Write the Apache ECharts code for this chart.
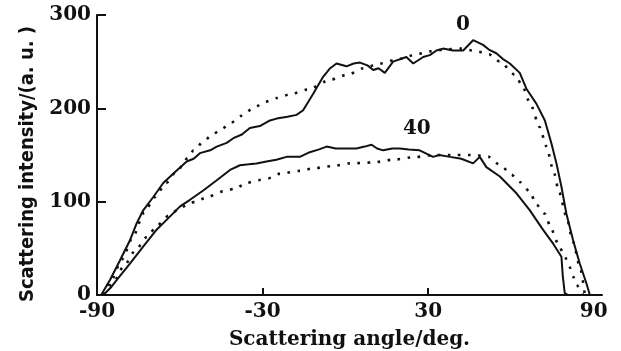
<!DOCTYPE html>
<html>
<head>
<meta charset="utf-8">
<script src="https://cdn.jsdelivr.net/npm/echarts@6/dist/echarts.min.js"></script>
<style>
html,body{margin:0;padding:0;background:#fff;}
#chart{width:621px;height:351px;}
</style>
</head>
<body>
<div id="chart"></div>
<script>
// ---- data ----
const xTickLabels = [-90, -30, 30, 90];
const yTickLabels = [0, 100, 200, 300];

// measured curve, 0
const meas0Angle = [-88.5,-85.3,-81.7,-78,-75.6,-73.2,-69.6,-66,-62.4,-57.5,-55,-52.7,-49,-46.6,-43,-40.6,-37.5,-34.6,-31,-27.3,-24.9,-21,-17.7,-15.3,-11.6,-8,-5.5,-3.2,0.4,3,5.3,8,10.1,12,14.3,17.3,22.1,24.6,28.2,30.6,33,35.4,39,42.7,46.3,49.9,52,54.7,57,59.6,63.2,65.6,69.2,72.3,74.7,76.5,78.3,80.1,82.5,84.9,87.4,88.6];
const meas0Value = [0,16,37,59,77,91,105,120,130,143,146,152,155,159,163,168,172,179,181,187,189,191,193,198,216,234,243,248,245,248,249,246,241,243,238,250,255,248,255,257,262,264,262,262,273,268,263,259,253,248,238,221,205,187,162,141,116,87,59,34,12,0];

// fitted (dotted) curve, 0
const fit0Angle = [-88,-85,-81,-77,-73,-69,-65,-61,-57,-55,-51.5,-48.5,-44.8,-41.2,-37.6,-33,-29,-25,-19,-14,-5,1.6,6.5,12.5,19.7,25.8,30.6,36,42,47.5,52,56,61.4,64,67,70.4,72.9,75.3,77.5,80,82.5,85,86.8];
const fit0Value = [0,15,38,62,88,105,120,133,147,155,164,171,178,185,192,201,207,211,216,220,231,237,243,248,253,258,261,263,264,261,258,250,236,225,205,180,159,134,110,85,57,30,0];

// measured curve, 40
const meas40Angle = [-87.7,-85,-82.9,-78,-73.2,-68.4,-63.6,-59.9,-56.3,-51.5,-46.6,-41.8,-38.2,-35,-32.2,-28.6,-25,-21.3,-16.5,-12.9,-9.5,-6.8,-3.5,-0.8,4,7,9.5,11.5,13.7,17,19.7,23,26.9,29,31.8,34,37.9,42,46.3,48.7,51.1,56,62,66.8,71.6,75.3,78.3,78.8,79.5,80.7];
const meas40Value = [0,8,16,34,52,70,84,95,102,112,123,134,139,140,141,143,145,148,148,153,156,159,157,157,157,159,161,157,155,157,157,156,155,152,148,150,148,146,141,148,137,127,109,91,70,55,41,20,2,0];

// fitted (dotted) curve, 40
const fit40Angle = [-87.5,-84,-80.5,-76,-72,-68,-64,-60,-56,-53.9,-50.9,-44.3,-40,-35.8,-31.6,-28,-23.7,-16.5,-11,-5,1.6,10.1,17.3,25.8,32,40,47,52,56.5,60.2,63.2,66.8,69.2,72.3,74.7,77.1,79.5,81.3,82.5,83.7,86.1];
const fit40Value = [0,14,30,48,62,75,85,93,99,100,104,111,114,120,123,125,130,133,136,138,141,142,145,148,150,150,150,148,138,129,121,111,97,87,70,55,41,30,20,11,0];

// curve annotations [label, angle, intensity]
const annotations = [["0", 42.6, 290], ["40", 25.9, 178]];

function zip(a, b) { return a.map((v, i) => [v, b[i]]); }

const ink = '#111';
const serif = 'DejaVu Serif';
const chart = echarts.init(document.getElementById('chart'), null, {renderer: 'canvas'});

function solid(name, a, v) {
  return {name, type: 'line', data: zip(a, v), symbol: 'none', smooth: false,
    lineStyle: {color: ink, width: 2}, animation: false, z: 3};
}
function dotted(name, a, v) {
  return {name, type: 'line', data: zip(a, v), symbol: 'none', smooth: 0.25, smoothMonotone: 'x',
    lineStyle: {color: ink, width: 2.6, type: [2.6, 7.5]}, animation: false, z: 2};
}

chart.setOption({
  animation: false,
  backgroundColor: '#fff',
  grid: {left: 97, right: 19, top: 15, bottom: 56, containLabel: false, outerBoundsMode: 'none'},
  xAxis: {
    type: 'value', min: -90, max: 93, interval: 60,
    axisLine: {show: true, onZero: false, lineStyle: {color: ink, width: 2}},
    axisTick: {show: true, inside: true, length: 7, lineStyle: {color: ink, width: 2}, customValues: [-30, 30]},
    axisLabel: {customValues: xTickLabels, margin: 7, color: ink, fontFamily: serif, fontWeight: 'bold', fontSize: 20,
      formatter: v => (v < 0 ? '-' + Math.abs(v) : String(v))},
    splitLine: {show: false},
    name: 'Scattering angle/deg.', nameLocation: 'middle', nameGap: 35,
    nameTextStyle: {color: ink, fontFamily: serif, fontWeight: 'bold', fontSize: 20}
  },
  yAxis: {
    type: 'value', min: 0, max: 300, interval: 100,
    axisLine: {show: true, onZero: false, lineStyle: {color: ink, width: 2}},
    axisTick: {show: true, inside: true, length: 9, lineStyle: {color: ink, width: 2}},
    axisLabel: {margin: 6, color: ink, fontFamily: serif, fontWeight: 'bold', fontSize: 20},
    splitLine: {show: false}
  },
  series: [
    dotted('fit 0', fit0Angle, fit0Value),
    dotted('fit 40', fit40Angle, fit40Value),
    solid('0', meas0Angle, meas0Value),
    solid('40', meas40Angle, meas40Value)
  ]
});

const g = annotations.map(([t, a, v]) => {
  const p = chart.convertToPixel({gridIndex: 0}, [a, v]);
  return {type: 'text', x: p[0], y: p[1], style: {text: t, fill: ink, font: 'bold 20px "DejaVu Serif"', align: 'center', verticalAlign: 'middle'}};
});
g.push({type: 'text', x: 28, y: 164, rotation: Math.PI / 2,
  style: {text: 'Scattering intensity/(a. u. )', fill: ink, font: 'bold 20px "DejaVu Sans Condensed", "DejaVu Sans"', align: 'center', verticalAlign: 'middle'}});
chart.setOption({graphic: g});
</script>
</body>
</html>
